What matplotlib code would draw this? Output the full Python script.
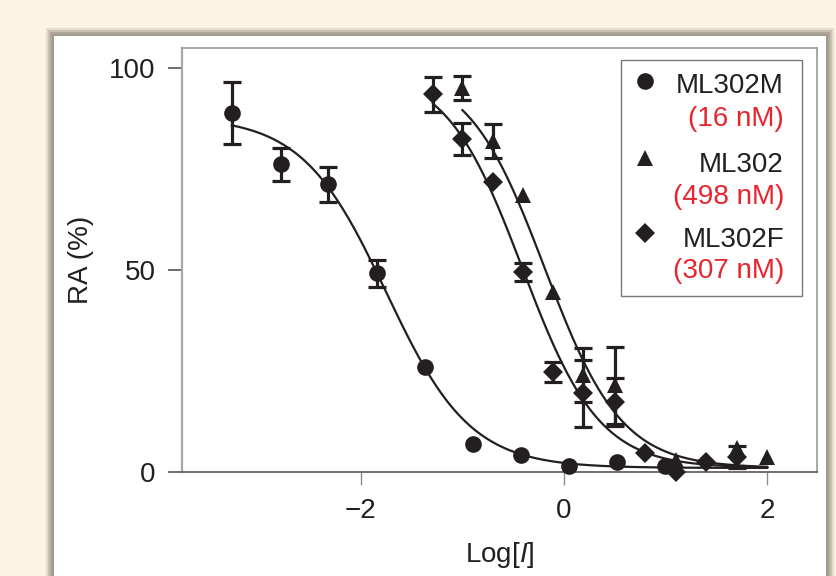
import numpy as np
import matplotlib
matplotlib.use('Agg')
import matplotlib.pyplot as plt
from matplotlib.patches import Rectangle

plt.rcParams['font.family'] = ['Liberation Sans', 'DejaVu Sans']
plt.rcParams['mathtext.fontset'] = 'custom'
plt.rcParams['mathtext.rm'] = 'Liberation Sans'
plt.rcParams['mathtext.it'] = 'Liberation Sans:italic'

# data: log concentration vs relative activity (%)
m_x = [-3.27, -2.79, -2.32, -1.84, -1.37, -0.90, -0.42, 0.05, 0.52, 0.99]
m_y = [89.0, 76.2, 71.2, 49.2, 26.0, 7.0, 4.2, 1.6, 2.5, 1.4]
m_err = [7.7, 4.1, 4.3, 3.4, 0, 0, 0, 0, 0, 0]

p_x = [-1.0, -0.7, -0.4, -0.11, 0.19, 0.5, 1.1, 1.7, 2.0]
p_y = [95.0, 82.0, 68.6, 44.6, 24.0, 21.5, 3.0, 6.0, 3.6]
p_err = [3.0, 4.2, 0, 0, 6.7, 9.5, 0, 0, 0]

f_x = [-1.29, -1.0, -0.7, -0.4, -0.11, 0.19, 0.5, 0.8, 1.1, 1.4, 1.7]
f_y = [93.5, 82.5, 71.8, 49.5, 24.8, 19.5, 17.3, 4.7, 0.0, 2.5, 3.7]
f_err = [4.4, 4.0, 0, 2.3, 2.5, 8.3, 6.0, 0, 0, 0, 2.7]

# dose-response fit parameters: top, bottom, logIC50, hill slope
m_fit = [88, 1, -1.75, 1.05]
p_fit = [100, 1, -0.19, 1.15]
f_fit = [100, 1, -0.41, 1.15]

names = ['ML302M', 'ML302', 'ML302F']
ic50_labels = ['(16 nM)', '(498 nM)', '(307 nM)']

ink = '#231f20'
red = '#e8252f'

W, H = 837, 576
fig = plt.figure(figsize=(W / 100, H / 100), dpi=100)
fig.patch.set_facecolor('#fcf4e2')

# white panel with soft gray shadow
px0, py0, px1 = 54, 36, 826
for grow, col in [(8, '#e4ddcf'), (6, '#c8c1b3'), (4, '#aea799'), (2, '#a19a8d')]:
    fig.patches.append(Rectangle(((px0 - grow) / W, 0), (px1 - px0 + 2 * grow) / W,
                                 (H - py0 + grow) / H, transform=fig.transFigure,
                                 facecolor=col, edgecolor='none', zorder=-3))
fig.patches.append(Rectangle((px0 / W, 0), (px1 - px0) / W, (H - py0) / H,
                             transform=fig.transFigure, facecolor='white',
                             edgecolor='none', zorder=-2))

ax = fig.add_axes([182 / W, 104 / H, 635 / W, 424 / H])
ax.set_facecolor('none')


def logistic(x, fit):
    top, bottom, c, h = fit
    return bottom + (top - bottom) / (1 + 10 ** ((x - c) * h))


series = [
    (m_x, m_y, m_err, m_fit, 'o', 12),
    (p_x, p_y, p_err, p_fit, '^', 12),
    (f_x, f_y, f_err, f_fit, 'D', 10),
]

for xs, ys, errs, fit, mk, ms in series:
    xs, ys, errs = np.array(xs), np.array(ys), np.array(errs)
    xx = np.linspace(xs.min(), 2.0, 300)
    ax.plot(xx, logistic(xx, fit), color=ink, lw=1.6, zorder=2)
    has = errs > 0
    ax.errorbar(xs[has], ys[has], yerr=errs[has], fmt='none', ecolor=ink,
                elinewidth=2.3, capsize=6.5, capthick=2.3, zorder=3, clip_on=False)
    ax.plot(xs, ys, mk, color=ink, ms=ms, mew=0, zorder=4, clip_on=False)

ax.set_xlim(-3.76, 2.49)
ax.set_ylim(0, 105)
ax.set_xticks([-2, 0, 2])
ax.set_yticks([0, 50, 100])
ax.tick_params(axis='both', direction='out', labelsize=20, labelcolor=ink)
ax.tick_params(axis='x', length=9, width=1, color='#8c8c8c', pad=10)
ax.tick_params(axis='y', length=10, width=1.2, color='#555555', pad=9)

ax.spines['left'].set_color('#a8a8a8')
ax.spines['left'].set_linewidth(1.6)
ax.spines['bottom'].set_color('#555555')
ax.spines['bottom'].set_linewidth(1.2)
for s in ['top', 'right']:
    ax.spines[s].set_color('#9a9a9a')
    ax.spines[s].set_linewidth(1.2)

ax.set_xlabel('Log[$\\mathit{I}$]', fontsize=20, color=ink)
ax.xaxis.set_label_coords(0.5, -0.16)
ax.set_ylabel('RA (%)', fontsize=20, color=ink)
ax.yaxis.set_label_coords(-0.138, 0.5)

# legend box drawn by hand so the IC50 values can be red
ax.add_patch(Rectangle((0.691, 0.415), 0.285, 0.557, transform=ax.transAxes,
                       facecolor='white', edgecolor='#777777', lw=1.0, zorder=5))
leg_markers = [('o', 12, 0.921), ('^', 12, 0.741), ('D', 10, 0.564)]
name_y = [0.893, 0.708, 0.531]
ic_y = [0.816, 0.633, 0.457]
for (mk, ms, my), name, ic, ny, iy in zip(leg_markers, names, ic50_labels, name_y, ic_y):
    ax.plot([0.729], [my], mk, color=ink, ms=ms, mew=0, transform=ax.transAxes,
            zorder=6, clip_on=False)
    ax.text(0.948, ny, name, transform=ax.transAxes, ha='right', va='baseline',
            fontsize=20, color=ink, zorder=6)
    ax.text(0.948, iy, ic, transform=ax.transAxes, ha='right', va='baseline',
            fontsize=20, color=red, zorder=6)

fig.savefig('out.png', dpi=100, facecolor=fig.get_facecolor())
